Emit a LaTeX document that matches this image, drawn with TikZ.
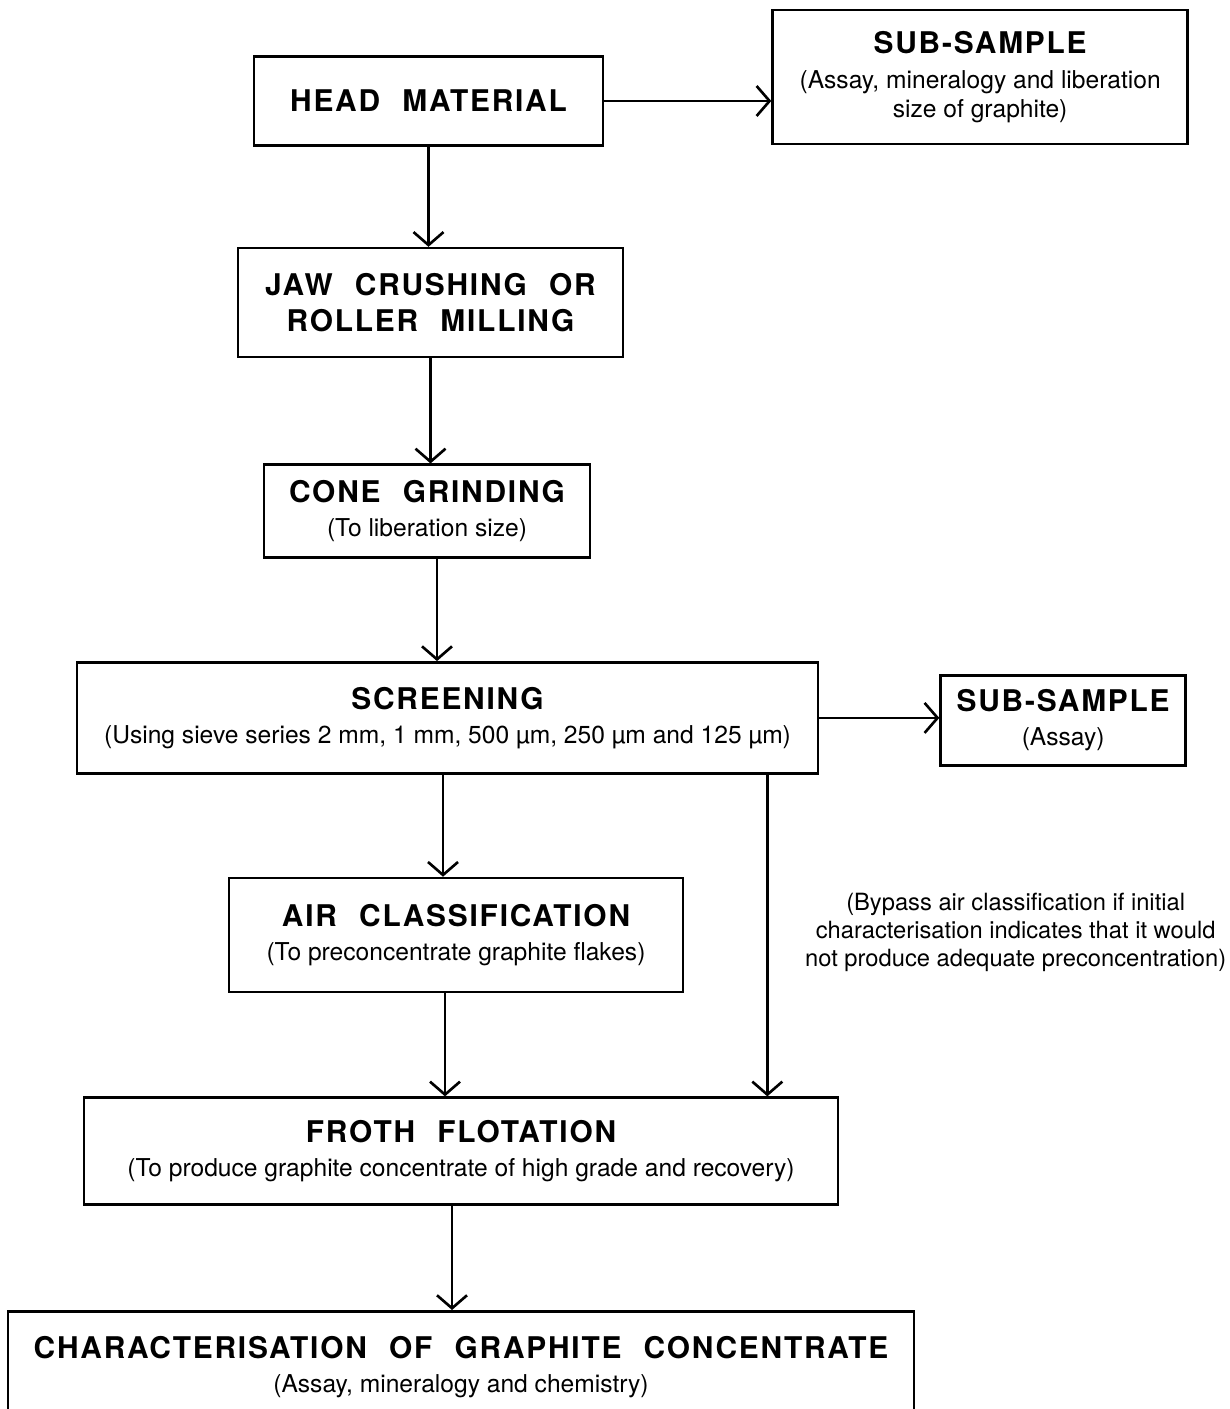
\documentclass[tikz,border=0pt]{standalone}
\usepackage{fontspec}
\setmainfont{TeX Gyre Heros}
\newfontfamily\ttlfont{TeX Gyre Heros}[LetterSpace=6,WordSpace=2.2]
\newcommand{\ttl}{\ttlfont\bfseries\fontsize{17}{21}\selectfont}
\usetikzlibrary{positioning,arrows.meta}

\begin{document}
\begin{tikzpicture}
[box/.style={draw, line width=1.5pt, align=center, inner sep=0pt,
    font=\fontsize{14}{16.5}\selectfont},
 arr/.style={line width=1.5pt, -{Straight Barb[length=2.6mm,width=6mm]}}]
\useasboundingbox (0,0) rectangle (24.58,-28.18);
\node[box, minimum width=6.98cm, minimum height=1.78cm] (head) at (8.57,-2.02) {\ttl HEAD MATERIAL};
\node[box, minimum width=8.3cm, minimum height=2.68cm, right=3.34cm of head, yshift=0.48cm] (sub1)
  {{\ttl SUB-SAMPLE}\\[3pt] (Assay, mineralogy and liberation\\ size of graphite)};
\node[box, minimum width=7.7cm, minimum height=2.18cm, below=2cm of head, xshift=0.04cm] (jaw)
  {{\ttl JAW CRUSHING OR}\\[4pt] {\ttl ROLLER MILLING}};
\node[box, minimum width=6.52cm, minimum height=1.86cm, below=2.1cm of jaw, xshift=-0.07cm] (cone)
  {{\ttl CONE GRINDING}\\[3pt] (To liberation size)};
\node[box, minimum width=14.82cm, minimum height=2.22cm, below=2.04cm of cone, xshift=0.41cm] (screen)
  {{\ttl SCREENING}\\[3pt] (Using sieve series 2 mm, 1 mm, 500 µm, 250 µm and 125 µm)};
\node[box, minimum width=4.9cm, minimum height=1.8cm, right=2.4cm of screen, yshift=-0.05cm] (sub2)
  {{\ttl SUB-SAMPLE}\\[3pt] (Assay)};
\node[box, minimum width=9.08cm, minimum height=2.28cm, below=2.04cm of screen, xshift=0.17cm] (air)
  {{\ttl AIR CLASSIFICATION}\\[3pt] (To preconcentrate graphite flakes)};
\node[box, draw=none, font=\fontsize{13.5}{16}\selectfont, right=2.39cm of air, yshift=0.06cm] (bypass)
  {(Bypass air classification if initial\\ characterisation indicates that it would\\ not produce adequate preconcentration)};
\node[box, minimum width=15.08cm, minimum height=2.14cm, below=2.06cm of air, xshift=0.1cm] (froth)
  {{\ttl FROTH FLOTATION}\\[3pt] (To produce graphite concentrate of high grade and recovery)};
\node[box, minimum width=18.12cm, minimum height=2.24cm, below=2.08cm of froth] (charac)
  {{\ttl CHARACTERISATION OF GRAPHITE CONCENTRATE}\\[3pt] (Assay, mineralogy and chemistry)};
% connectors
\coordinate (c1) at ([xshift=0.2cm]cone.south);
\coordinate (s1) at ([xshift=-0.09cm]screen.south);
\coordinate (s2) at ([xshift=-1.04cm]screen.south east);
\coordinate (a1) at ([xshift=-0.22cm]air.south);
\coordinate (f1) at ([xshift=-0.18cm]froth.south);
\draw[arr] (head.east) -- (head.east -| sub1.west);
\draw[arr] (head.south) -- (head.south |- jaw.north);
\draw[arr] (jaw.south) -- (jaw.south |- cone.north);
\draw[arr] (c1) -- (c1 |- screen.north);
\draw[arr] (screen.east) -- (screen.east -| sub2.west);
\draw[arr] (s1) -- (s1 |- air.north);
\draw[arr] (s2) -- (s2 |- froth.north);
\draw[arr] (a1) -- (a1 |- froth.north);
\draw[arr] (f1) -- (f1 |- charac.north);
\end{tikzpicture}
\end{document}
